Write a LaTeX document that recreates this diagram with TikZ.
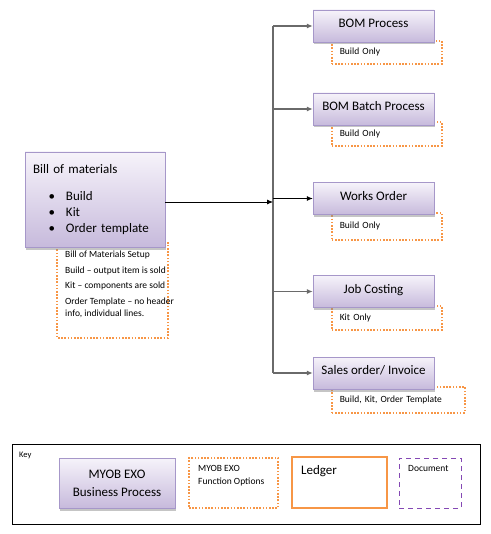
\documentclass[tikz,border=0pt]{standalone}
\usepackage{fontspec}
\setmainfont{Carlito}
\usetikzlibrary{positioning, calc, shadows, arrows.meta}

\definecolor{procTop}{HTML}{F6F3FA}
\definecolor{procBot}{HTML}{C7BADC}
\definecolor{procLine}{HTML}{A697C9}
\definecolor{optOrange}{HTML}{F79646}
\definecolor{docPurple}{HTML}{8448B4}
\definecolor{linkGray}{HTML}{6A6A6A}

\tikzset{
    procbox/.style={draw=procLine, top color=procTop, bottom color=procBot,
        drop shadow={shadow xshift=1pt, shadow yshift=-2.5pt, fill=black!45},
        minimum width=121pt, minimum height=32pt, inner sep=0pt,
        font=\fontsize{13}{16}\selectfont},
    procrow/.style={procbox, text depth=5.5pt},
    optline/.style={draw=optOrange, line width=1.6pt, dash pattern=on 1.6pt off 1.6pt},
    optbox/.style={optline, anchor=north west, align=left, inner xsep=8pt, inner ysep=0pt,
        font=\fontsize{9.5}{12}\selectfont},
    small/.style={anchor=north west, inner sep=0pt, align=left, font=\fontsize{9.5}{13}\selectfont},
    feed/.style={-{Latex[length=6pt,width=5pt]}, draw=linkGray, line width=1.3pt},
    link/.style={-{Latex[length=6pt,width=5pt]}, draw=black, line width=0.8pt},
}

\newcommand{\bomitem}[1]{\makebox[33pt][r]{\textbullet\hspace{11pt}}#1}

\begin{document}
\begin{tikzpicture}[x=1pt, y=-1pt]
    \useasboundingbox (0,0) rectangle (490,534);

    % function options (behind the process boxes)
    \draw[optline] (57,243) rectangle (168,338);
    \path (65,251) node[small, font=\fontsize{9.5}{12}\selectfont](BomSetup){Bill of Materials Setup \\[3.5pt]
        Build -- output item is sold \\[3.5pt] Kit -- components are sold \\[3.5pt]
        Order Template -- no header \\ info, individual lines.};
    \path (331,40) node[optbox, minimum width=110pt, minimum height=23pt, text width=94pt](BomOpt){Build Only};
    \path (331,121) node[optbox, minimum width=110pt, minimum height=24pt, text width=94pt](BatchOpt){Build Only};
    \path (331,212) node[optbox, minimum width=110pt, minimum height=27pt, text width=94pt](WorksOpt){Build Only};
    \path (331,305) node[optbox, minimum width=110pt, minimum height=24pt, text width=94pt](JobOpt){Kit Only};
    \path (331,386) node[optbox, minimum width=133pt, minimum height=26pt, text width=117pt](SalesOpt){Build, Kit, Order Template};

    % business processes
    \path (95,199.5) node[procbox, minimum width=140pt, minimum height=95pt, text width=124pt, align=left](Bill){Bill of materials \\[11pt]
        \bomitem{Build} \\ \bomitem{Kit} \\ \bomitem{Order template}};
    \path (373.5,26) node[procrow](BOM){BOM Process};
    \path (373.5,109) node[procrow](Batch){BOM Batch Process};
    \path (373.5,198.5) node[procrow](Works){Works Order};
    \path (373.5,291.5) node[procrow](Job){Job Costing};
    \path (373.5,373) node[procrow](Sales){Sales order/ Invoice};

    % connectors
    \coordinate (Hub) at (273,202);
    \draw[linkGray, line width=1.3pt] (Hub |- BOM.west) -- (Hub |- Sales.west);
    \draw[link] (Bill.east |- Hub) -- (Hub);
    \draw[feed] (Hub |- BOM.west) -- (BOM.west);
    \draw[feed] (Hub |- Batch.west) -- (Batch.west);
    \draw[link] (Hub |- Works.west) -- (Works.west);
    \draw[feed] (Hub |- Job.west) -- (Job.west);
    \draw[feed] (Hub |- Sales.west) -- (Sales.west);

    % key
    \path (246,484) node[draw, line width=0.9pt, minimum width=468pt, minimum height=80pt](KeyFrame){};
    \path (19,452) node[small, font=\fontsize{8.5}{10}\selectfont](KeyLabel){Key};
    \path (117,483) node[procbox, minimum width=116pt, minimum height=50pt, align=center,
        font=\fontsize{13}{18}\selectfont](KeyProc){MYOB EXO \\ Business Process};
    \path (233.5,483) node[optline, minimum width=89pt, minimum height=50pt](KeyOpt){};
    \path (198,465) node[small](KeyOptText){MYOB EXO \\ Function Options};
    \path (339.5,482.5) node[draw=optOrange, line width=2.2pt, minimum width=95pt, minimum height=51pt](KeyLedger){};
    \path (301,465) node[small, font=\fontsize{13}{16}\selectfont](KeyLedgerText){Ledger};
    \path (430,483) node[draw=docPurple, line width=0.9pt, dash pattern=on 5pt off 4pt,
        minimum width=62pt, minimum height=50pt](KeyDoc){};
    \path (408,465) node[small](KeyDocText){Document};
\end{tikzpicture}
\end{document}
